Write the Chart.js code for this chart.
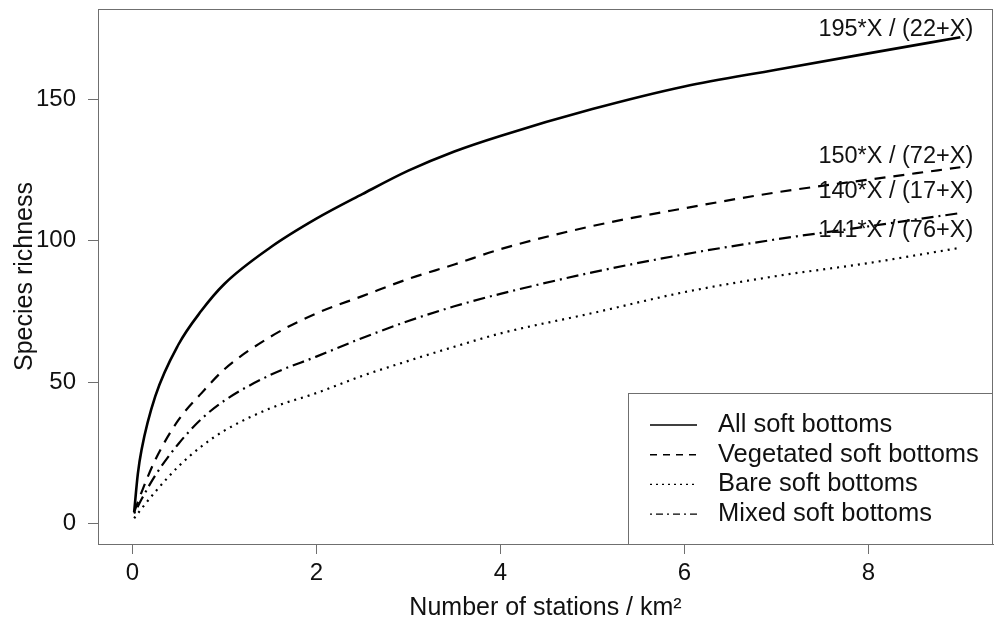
<!DOCTYPE html>
<html>
<head>
<meta charset="utf-8">
<script src="https://cdn.jsdelivr.net/npm/chart.js@4/dist/chart.umd.min.js"></script>
<style>
  body { margin: 0; background: #fff; }
  #wrap { width: 996px; height: 626px; }
</style>
</head>
<body>
<div id="wrap"><canvas id="richness" width="996" height="626"></canvas></div>
<script>
// stations per km2 (x) and species richness
const stations = [0.02, 0.06, 0.1, 0.25, 0.5, 0.75, 1, 1.5, 2, 2.5, 3, 3.5, 4, 5, 6, 7, 8, 9];
const allSoft =       [4, 17.5, 26, 45, 63.2, 75.2, 84.7, 97.6, 107.8, 116.5, 124.8, 131.6, 137.1, 146.6, 154.6, 160.5, 166.3, 172];
const vegetatedSoft = [4, 7.5, 11, 22.5, 36.5, 46, 54.5, 66, 74.3, 80.4, 86.5, 91.6, 97, 105.2, 111.5, 117.1, 121.6, 126];
const bareSoft =      [1.8, 3.5, 5.2, 11.2, 20.1, 27.2, 32.8, 40.7, 46.1, 52.2, 57.5, 62.5, 67.2, 74.4, 81.8, 87.5, 92.1, 97.5];
const mixedSoft =     [3.5, 6, 8.5, 17, 28.1, 36.9, 43.4, 52.5, 59, 65.6, 71.6, 76.8, 81.2, 88.8, 95.2, 100.5, 105.1, 109.8];

const seriesNames = ['All soft bottoms', 'Vegetated soft bottoms', 'Bare soft bottoms', 'Mixed soft bottoms'];
const xTicks = [0, 2, 4, 6, 8];
const yTicks = [0, 50, 100, 150];

// fitted model labels drawn at the end of each curve
const modelLabels = ['195*X / (22+X)', '150*X / (72+X)', '140*X / (17+X)', '141*X / (76+X)'];
const modelLabelY = [174.8, 129.8, 117.3, 103.5];
const modelLabelX = 9.14;

const boxGray = '#6f6f6f';
const textColor = '#111';
const fontFamily = '"Liberation Sans", Arial, sans-serif';

// dash patterns like R lty 1, 2, 3, 4
const curveDash = [[], [11, 8], [2, 5], [2, 5, 12, 5]];
const legendDash = [[], [7, 6], [2, 4], [2, 4, 7, 4]];

function toPoints(values) {
    return stations.map((x, i) => ({ x: x, y: values[i] }));
}

const seriesValues = [allSoft, vegetatedSoft, bareSoft, mixedSoft];

const datasets = seriesValues.map((vals, i) => ({
    label: seriesNames[i],
    data: toPoints(vals),
    borderColor: '#000',
    borderWidth: i === 0 ? 2.6 : 2.2,
    borderDash: curveDash[i],
    pointRadius: 0,
    fill: false,
    cubicInterpolationMode: 'monotone'
}));

// box around the plot, legend and formula labels
const extrasPlugin = {
    id: 'extras',
    afterDraw(chart) {
        const ctx = chart.ctx;
        const area = chart.chartArea;
        const xs = chart.scales.x;
        const ys = chart.scales.y;

        ctx.save();
        ctx.strokeStyle = boxGray;
        ctx.lineWidth = 1;
        ctx.strokeRect(area.left + 0.5, area.top + 0.5, area.right - area.left - 1, area.bottom - area.top);

        // formula labels
        ctx.fillStyle = textColor;
        ctx.font = '23.5px ' + fontFamily;
        ctx.textAlign = 'right';
        ctx.textBaseline = 'middle';
        modelLabels.forEach((txt, i) => {
            ctx.fillText(txt, xs.getPixelForValue(modelLabelX), ys.getPixelForValue(modelLabelY[i]));
        });

        // legend box in the lower right corner
        const lw = 364, lh = 151;
        const lx = area.right - 1 - lw;
        const ly = area.bottom - lh;
        ctx.fillStyle = '#fff';
        ctx.fillRect(lx, ly, lw, lh);
        ctx.strokeStyle = boxGray;
        ctx.strokeRect(lx + 0.5, ly + 0.5, lw, lh);

        ctx.font = '25.5px ' + fontFamily;
        ctx.textAlign = 'left';
        seriesNames.forEach((name, i) => {
            const cy = ly + 32 + i * 29.7;
            ctx.beginPath();
            ctx.strokeStyle = '#000';
            ctx.lineWidth = 1.4;
            ctx.setLineDash(legendDash[i]);
            ctx.moveTo(lx + 22, cy);
            ctx.lineTo(lx + 69, cy);
            ctx.stroke();
            ctx.setLineDash([]);
            ctx.fillStyle = textColor;
            ctx.fillText(name, lx + 90, cy);
        });
        ctx.restore();
    }
};

const ctx = document.getElementById('richness').getContext('2d');
new Chart(ctx, {
    type: 'line',
    data: { datasets: datasets },
    plugins: [extrasPlugin],
    options: {
        responsive: false,
        animation: false,
        devicePixelRatio: 1,
        layout: { padding: { top: 9, right: 3, left: 0, bottom: 0 } },
        plugins: {
            legend: { display: false },
            tooltip: { enabled: false }
        },
        scales: {
            x: {
                type: 'linear',
                min: -0.373,
                max: 9.355,
                afterBuildTicks: scale => { scale.ticks = xTicks.map(v => ({ value: v })); },
                afterFit: scale => {
                    scale.height = 82;
                    scale.paddingLeft = 0;
                    scale.paddingRight = 0;
                },
                grid: { drawOnChartArea: false, drawTicks: true, tickLength: 10, color: boxGray },
                border: { display: true, color: boxGray },
                ticks: {
                    padding: 5,
                    color: textColor,
                    maxRotation: 0,
                    font: { family: fontFamily, size: 24 }
                },
                title: {
                    display: true,
                    text: 'Number of stations / km²',
                    color: textColor,
                    padding: { top: 0, bottom: 3 },
                    font: { family: fontFamily, size: 25 }
                }
            },
            y: {
                min: -7.3,
                max: 182,
                afterBuildTicks: scale => { scale.ticks = yTicks.map(v => ({ value: v })); },
                afterFit: scale => {
                    scale.width = 98;
                    scale.paddingTop = 0;
                    scale.paddingBottom = 0;
                },
                grid: { drawOnChartArea: false, drawTicks: true, tickLength: 10, color: boxGray },
                border: { display: true, color: boxGray },
                ticks: {
                    padding: 12,
                    color: textColor,
                    font: { family: fontFamily, size: 24 }
                },
                title: {
                    display: true,
                    text: 'Species richness',
                    color: textColor,
                    padding: { top: 10, bottom: 0 },
                    font: { family: fontFamily, size: 25 }
                }
            }
        }
    }
});
</script>
</body>
</html>
